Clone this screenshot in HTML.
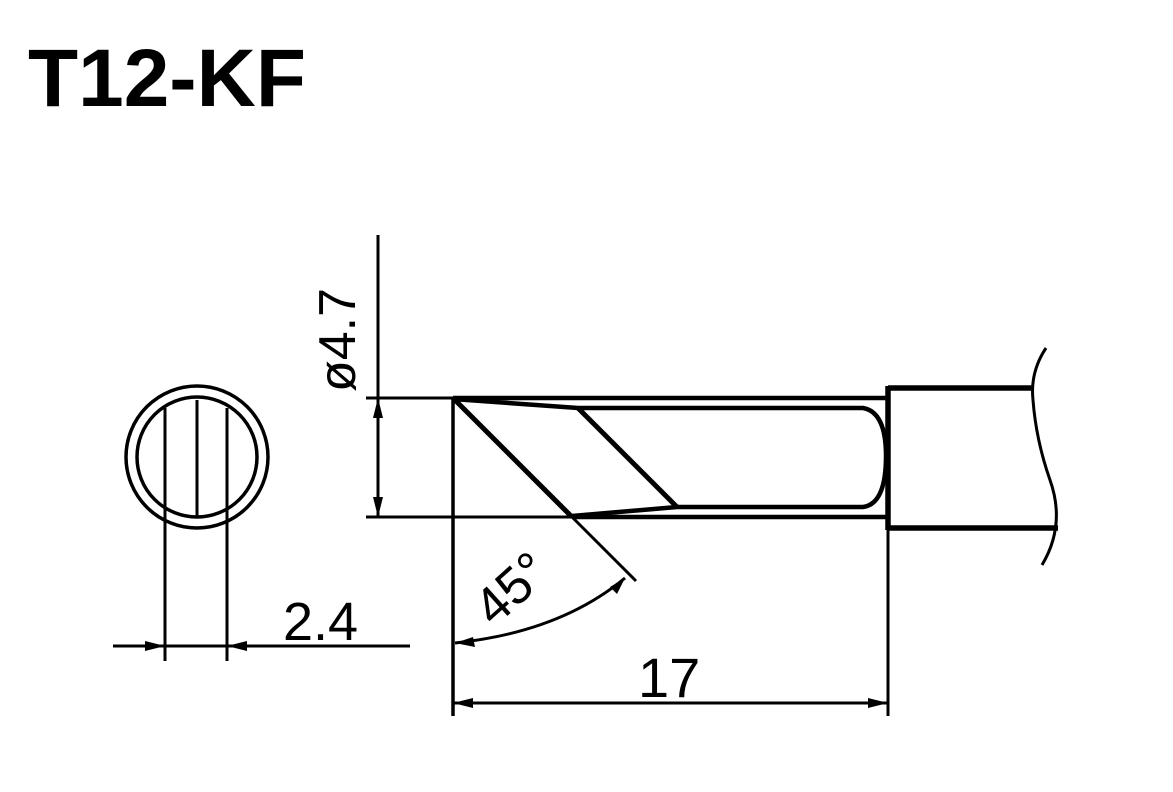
<!DOCTYPE html>
<html><head><style>body{margin:0;background:#fff}svg{display:block}</style></head><body>
<svg width="1173" height="792" viewBox="0 0 1173 792" xmlns="http://www.w3.org/2000/svg" font-family="Liberation Sans, sans-serif">
<rect width="1173" height="792" fill="#fff"/>
<text x="28" y="106" font-size="82" font-weight="bold">T12-KF</text>
<g fill="none" stroke="#000">
<circle cx="197" cy="457" r="71" stroke-width="3.5"/>
<circle cx="197" cy="457" r="60" stroke-width="3.5"/>
<line x1="165" y1="408" x2="165" y2="661" stroke-width="3"/>
<line x1="227" y1="408" x2="227" y2="661" stroke-width="3"/>
<line x1="197" y1="400" x2="197" y2="516" stroke-width="3"/>
<line x1="113" y1="646" x2="410" y2="646" stroke-width="3"/>
<line x1="366" y1="398" x2="888" y2="398" stroke-width="3"/>
<line x1="366" y1="517" x2="888" y2="517" stroke-width="3"/>
<line x1="378" y1="235" x2="378" y2="517" stroke-width="3"/>
<line x1="453" y1="398" x2="453" y2="716" stroke-width="3.5"/>
<line x1="888" y1="386" x2="888" y2="716" stroke-width="3"/>
<line x1="453" y1="703" x2="888" y2="703" stroke-width="3"/>
<line x1="453" y1="398" x2="888" y2="398" stroke-width="4.5"/>
<line x1="572" y1="517" x2="888" y2="517" stroke-width="4.5"/>
<line x1="453" y1="398" x2="572" y2="517" stroke-width="5"/>
<line x1="572" y1="517" x2="636" y2="581" stroke-width="3"/>
<line x1="578" y1="408" x2="677" y2="507" stroke-width="5"/>
<path d="M453 399 L578 408 L863 408 Q886 412 886 456 Q886 504 863 507 L677 507 L572 516" stroke-width="4.5"/>
<path d="M888 388 L1033 388 M888 528 L1058 528 M888 386 L888 530" stroke-width="5.5"/>
<path d="M1046 348 Q1030 372 1033 400 Q1036 440 1050 480 Q1066 525 1042 565" stroke-width="3"/>
<path d="M455 643 Q560 632 625 578" stroke-width="3"/>
</g>
<g fill="#000">
<polygon points="378,398 373,418 383,418"/>
<polygon points="378,517 373,497 383,497"/>
<polygon points="165,646 145,641 145,651"/>
<polygon points="227,646 247,641 247,651"/>
<polygon points="453,703 473,698 473,708"/>
<polygon points="888,703 868,698 868,708"/>
<polygon points="455,643 473,637 475,647"/>
<polygon points="625,578 617,594 610,587"/>
</g>
<text x="0" y="0" font-size="52" transform="translate(355,392) rotate(-90)">ø4.7</text>
<text x="283" y="640" font-size="54">2.4</text>
<text x="638" y="697" font-size="56">17</text>
<text x="0" y="0" font-size="52" transform="translate(494,628) rotate(-42)">45°</text>
</svg>
</body></html>
